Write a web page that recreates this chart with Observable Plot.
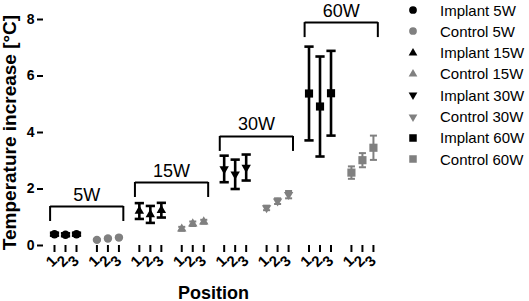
<!DOCTYPE html>
<html><head><meta charset="utf-8">
<script src="https://cdn.jsdelivr.net/npm/d3@7"></script>
<script src="https://cdn.jsdelivr.net/npm/@observablehq/plot@0.6"></script>
<style>
body{margin:0;background:#fff;font-family:"Liberation Sans",Arial,sans-serif;}
#wrap{position:relative;width:529px;height:301px;overflow:hidden;}
#legend{position:absolute;left:0;top:0;width:529px;height:301px;pointer-events:none;}
.row{position:absolute;left:406px;height:16px;display:flex;align-items:center;font-size:15px;color:#000;white-space:nowrap;}
.row svg{width:14px;height:14px;margin-right:20px;}
</style></head><body><div id="wrap"><div id="legend"></div></div>
<script>
// ---- data ----
const powers = ["5W", "15W", "30W", "60W"];
const conditions = ["Implant", "Control"];
const positionLabels = ["1", "2", "3"];

const implantMean = [[0.40, 0.38, 0.40], [1.22, 1.10, 1.25], [2.71, 2.52, 2.76], [5.38, 4.92, 5.39]];
const implantSD   = [[0.05, 0.05, 0.05], [0.28, 0.30, 0.26], [0.47, 0.52, 0.46], [1.66, 1.77, 1.50]];
const controlMean = [[0.20, 0.25, 0.28], [0.59, 0.77, 0.84], [1.33, 1.57, 1.80], [2.58, 3.02, 3.46]];
const controlSD   = [[0.03, 0.03, 0.03], [0.07, 0.08, 0.07], [0.08, 0.10, 0.13], [0.22, 0.25, 0.43]];
const bracketLevel = [1.38, 2.23, 3.86, 7.89];

// ---- layout/style ----
const GROUP_STEP = 3.855;
const colors = {Implant: "#000000", Control: "#808080"};
const sqrt3 = Math.sqrt(3);
const triangleDown = {draw(ctx, size) {
  const y = -Math.sqrt(size / (sqrt3 * 3));
  ctx.moveTo(0, -y * 2); ctx.lineTo(-sqrt3 * y, y); ctx.lineTo(sqrt3 * y, y); ctx.closePath();
}};
const symbols = {"5W": "circle", "15W": "triangle", "30W": triangleDown, "60W": "square"};
const radius = {"5W": 4.2, "15W": 3.5, "30W": 3.5, "60W": 4.6};
const d3symbols = {"5W": d3.symbolCircle, "15W": d3.symbolTriangle, "30W": triangleDown, "60W": d3.symbolSquare};

const rows = [];
powers.forEach((p, g) => conditions.forEach((c, s) => positionLabels.forEach((pos, i) => {
  const mean = (s === 0 ? implantMean : controlMean)[g][i];
  const sd = (s === 0 ? implantSD : controlSD)[g][i];
  rows.push({power: p, cond: c, pos, series: `${c} ${p}`, slot: (2 * g + s) * GROUP_STEP + i, mean, sd});
})));
const tickLabel = new Map(rows.map(r => [r.slot, r.pos]));
const brackets = powers.map((p, g) => ({
  label: p,
  x1: 2 * g * GROUP_STEP - 0.4,
  x2: (2 * g + 1) * GROUP_STEP + 2 + 0.4,
  y: bracketLevel[g]
}));

const marks = [];
// error bars
for (const c of conditions) {
  const d = rows.filter(r => r.cond === c);
  const w = c === "Implant" ? 2.6 : 2;
  const cap = c === "Implant" ? 0.42 : 0.32;
  marks.push(Plot.ruleX(d, {x: "slot", y1: r => r.mean - r.sd, y2: r => r.mean + r.sd, stroke: colors[c], strokeWidth: w}));
  marks.push(Plot.link(d, {x1: r => r.slot - cap, x2: r => r.slot + cap, y1: r => r.mean + r.sd, y2: r => r.mean + r.sd, stroke: colors[c], strokeWidth: w}));
  marks.push(Plot.link(d, {x1: r => r.slot - cap, x2: r => r.slot + cap, y1: r => r.mean - r.sd, y2: r => r.mean - r.sd, stroke: colors[c], strokeWidth: w}));
}
// markers
for (const p of powers) for (const c of conditions) {
  marks.push(Plot.dot(rows.filter(r => r.power === p && r.cond === c), {
    x: "slot", y: "mean", symbol: symbols[p], r: radius[p], fill: colors[c], stroke: "none"
  }));
}
// brackets
marks.push(Plot.link(brackets, {x1: "x1", x2: "x2", y1: "y", y2: "y", stroke: "#000", strokeWidth: 2}));
marks.push(Plot.ruleX(brackets, {x: "x1", y1: "y", y2: d => d.y - 0.53, stroke: "#000", strokeWidth: 2}));
marks.push(Plot.ruleX(brackets, {x: "x2", y1: "y", y2: d => d.y - 0.53, stroke: "#000", strokeWidth: 2}));
marks.push(Plot.text(brackets, {x: d => (d.x1 + d.x2) / 2, y: "y", text: "label", lineAnchor: "bottom", dy: -6, fontSize: 18, fill: "#000"}));
// axes
marks.push(Plot.axisY({ticks: [0, 2, 4, 6, 8], tickSize: 6, tickPadding: 3, fontSize: 14, fontWeight: "bold", strokeWidth: 2, stroke: "#000", color: "#000", line: true, label: null, labelArrow: "none"}));
marks.push(Plot.axisY({ticks: [], label: "Temperature increase [°C]", labelAnchor: "center", labelArrow: "none", labelOffset: 41, fontSize: 19, fontWeight: "bold"}));
marks.push(Plot.axisX(rows.map(r => r.slot), {tickFormat: d => tickLabel.get(d), tickRotate: -45, tickSize: 7, tickPadding: 6, fontSize: 15, fontWeight: "bold", strokeWidth: 2, stroke: "#000", line: true, label: null, labelArrow: "none"}));
marks.push(Plot.axisX({ticks: [], label: "Position", labelAnchor: "center", labelArrow: "none", labelOffset: 53, fontSize: 18, fontWeight: "bold"}));

const chart = Plot.plot({
  width: 529, height: 301,
  marginTop: 19, marginBottom: 56, marginLeft: 43, marginRight: 146,
  x: {type: "linear", domain: [-1, 29.9]},
  y: {domain: [0, 8]},
  style: {fontFamily: "'Liberation Sans', Arial, sans-serif", color: "#000", background: "#fff", overflow: "visible"},
  marks
});
document.getElementById("wrap").prepend(chart);

// legend
const legend = d3.select("#legend");
let k = 0;
for (const p of powers) for (const c of conditions) {
  const row = legend.append("div").attr("class", "row").style("top", (2 + 21.3 * k) + "px");
  const svg = row.append("svg").attr("viewBox", "-7 -7 14 14");
  const size = Math.PI * radius[p] * radius[p] * 0.85;
  svg.append("path").attr("d", d3.symbol(d3symbols[p], size)()).attr("fill", colors[c]);
  row.append("span").text(`${c} ${p}`);
  k++;
}
</script></body></html>
